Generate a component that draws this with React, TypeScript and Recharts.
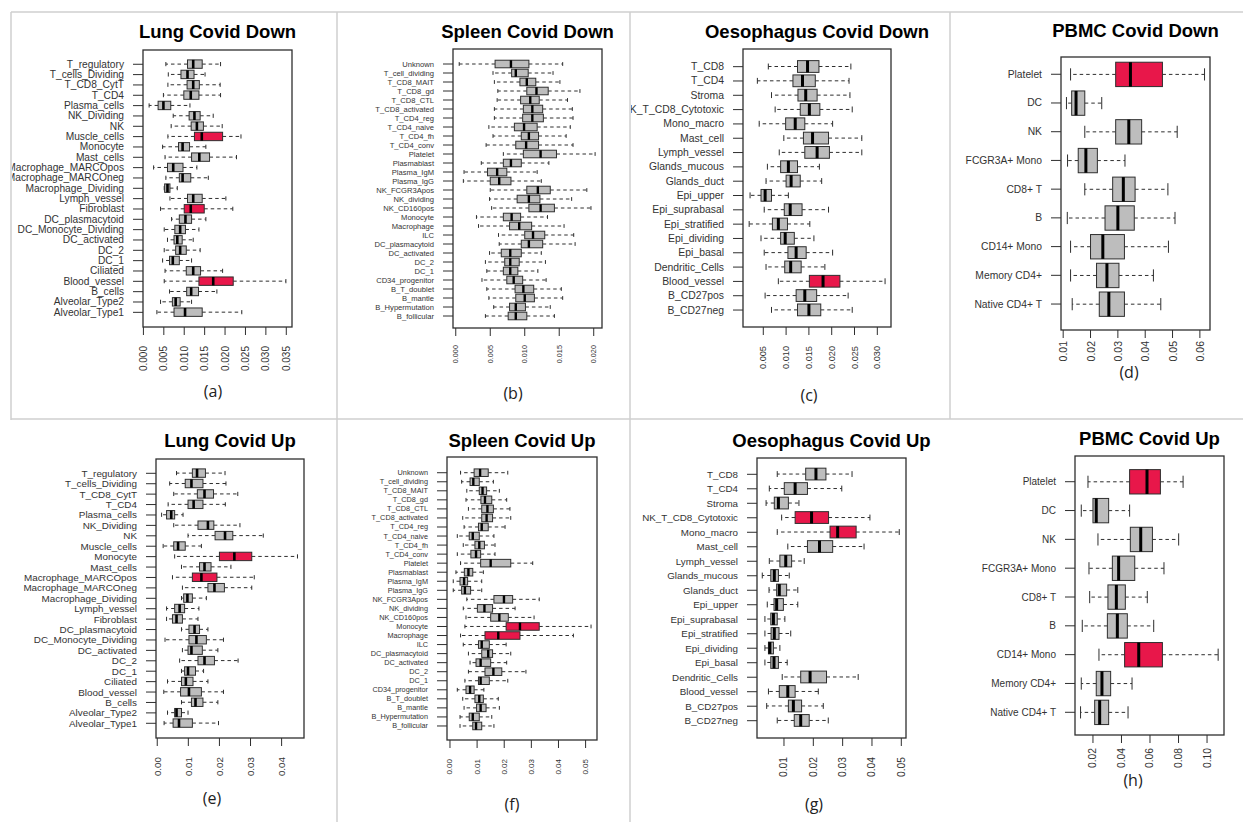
import React from 'react';
import { ComposedChart, Bar, XAxis, YAxis } from 'recharts';

// each stat is [lower whisker, Q1, median, Q3, upper whisker]
type Stat = [number, number, number, number, number];

const lungCells = [
  'T_regulatory', 'T_cells_Dividing', 'T_CD8_CytT', 'T_CD4', 'Plasma_cells', 'NK_Dividing', 'NK',
  'Muscle_cells', 'Monocyte', 'Mast_cells', 'Macrophage_MARCOpos', 'Macrophage_MARCOneg',
  'Macrophage_Dividing', 'Lymph_vessel', 'Fibroblast', 'DC_plasmacytoid', 'DC_Monocyte_Dividing',
  'DC_activated', 'DC_2', 'DC_1', 'Ciliated', 'Blood_vessel', 'B_cells', 'Alveolar_Type2', 'Alveolar_Type1',
];

const spleenCells = [
  'Unknown', 'T_cell_dividing', 'T_CD8_MAIT', 'T_CD8_gd', 'T_CD8_CTL', 'T_CD8_activated', 'T_CD4_reg',
  'T_CD4_naive', 'T_CD4_fh', 'T_CD4_conv', 'Platelet', 'Plasmablast', 'Plasma_IgM', 'Plasma_IgG',
  'NK_FCGR3Apos', 'NK_dividing', 'NK_CD160pos', 'Monocyte', 'Macrophage', 'ILC', 'DC_plasmacytoid',
  'DC_activated', 'DC_2', 'DC_1', 'CD34_progenitor', 'B_T_doublet', 'B_mantle', 'B_Hypermutation', 'B_follicular',
];

const oesoCells = [
  'T_CD8', 'T_CD4', 'Stroma', 'NK_T_CD8_Cytotoxic', 'Mono_macro', 'Mast_cell', 'Lymph_vessel',
  'Glands_mucous', 'Glands_duct', 'Epi_upper', 'Epi_suprabasal', 'Epi_stratified', 'Epi_dividing',
  'Epi_basal', 'Dendritic_Cells', 'Blood_vessel', 'B_CD27pos', 'B_CD27neg',
];

const pbmcCells = [
  'Platelet', 'DC', 'NK', 'FCGR3A+ Mono', 'CD8+ T', 'B', 'CD14+ Mono', 'Memory CD4+', 'Native CD4+ T',
];

const lungDown: Stat[] = [
  [0.0055, 0.0108, 0.0122, 0.0144, 0.0189],
  [0.0061, 0.0092, 0.0108, 0.0124, 0.0151],
  [0.0060, 0.0107, 0.0122, 0.0137, 0.0188],
  [0.0049, 0.0099, 0.0116, 0.0136, 0.0189],
  [0.0014, 0.0036, 0.0049, 0.0067, 0.0114],
  [0.0073, 0.0112, 0.0125, 0.0139, 0.0171],
  [0.0068, 0.0117, 0.0131, 0.0147, 0.0193],
  [0.0060, 0.0125, 0.0143, 0.0194, 0.0239],
  [0.0047, 0.0086, 0.0096, 0.0113, 0.0153],
  [0.0053, 0.0118, 0.0137, 0.0162, 0.0228],
  [0.0025, 0.0059, 0.0073, 0.0097, 0.0131],
  [0.0055, 0.0088, 0.0096, 0.0116, 0.0159],
  [0.0051, 0.0052, 0.0059, 0.0065, 0.0083],
  [0.0065, 0.0108, 0.0122, 0.0144, 0.0202],
  [0.0042, 0.0100, 0.0116, 0.0149, 0.0219],
  [0.0069, 0.0088, 0.0103, 0.0118, 0.0153],
  [0.0051, 0.0077, 0.0090, 0.0103, 0.0136],
  [0.0059, 0.0075, 0.0083, 0.0095, 0.0122],
  [0.0051, 0.0079, 0.0090, 0.0105, 0.0139],
  [0.0047, 0.0064, 0.0072, 0.0088, 0.0118],
  [0.0053, 0.0105, 0.0122, 0.0140, 0.0194],
  [0.0051, 0.0136, 0.0171, 0.0220, 0.0349],
  [0.0064, 0.0106, 0.0117, 0.0135, 0.0180],
  [0.0042, 0.0071, 0.0079, 0.0090, 0.0118],
  [0.0033, 0.0075, 0.0102, 0.0144, 0.0241],
];
const lungDownRed = ['Muscle_cells', 'Fibroblast', 'Blood_vessel'];

const spleenDown: Stat[] = [
  [0.0005, 0.0057, 0.0080, 0.0106, 0.0155],
  [0.0054, 0.0081, 0.0087, 0.0105, 0.0141],
  [0.0056, 0.0093, 0.0103, 0.0116, 0.0151],
  [0.0061, 0.0103, 0.0117, 0.0134, 0.0180],
  [0.0060, 0.0094, 0.0108, 0.0121, 0.0162],
  [0.0056, 0.0098, 0.0111, 0.0126, 0.0169],
  [0.0056, 0.0097, 0.0111, 0.0127, 0.0170],
  [0.0048, 0.0085, 0.0099, 0.0118, 0.0166],
  [0.0054, 0.0095, 0.0106, 0.0120, 0.0160],
  [0.0044, 0.0087, 0.0102, 0.0120, 0.0170],
  [0.0069, 0.0098, 0.0123, 0.0146, 0.0202],
  [0.0037, 0.0069, 0.0080, 0.0095, 0.0135],
  [0.0012, 0.0046, 0.0060, 0.0074, 0.0118],
  [0.0011, 0.0050, 0.0063, 0.0080, 0.0124],
  [0.0050, 0.0103, 0.0119, 0.0137, 0.0190],
  [0.0049, 0.0089, 0.0106, 0.0122, 0.0168],
  [0.0052, 0.0106, 0.0123, 0.0143, 0.0196],
  [0.0030, 0.0069, 0.0081, 0.0094, 0.0133],
  [0.0033, 0.0078, 0.0092, 0.0110, 0.0157],
  [0.0062, 0.0100, 0.0112, 0.0129, 0.0171],
  [0.0063, 0.0095, 0.0106, 0.0126, 0.0173],
  [0.0049, 0.0066, 0.0079, 0.0095, 0.0124],
  [0.0043, 0.0071, 0.0079, 0.0092, 0.0130],
  [0.0045, 0.0069, 0.0079, 0.0090, 0.0119],
  [0.0038, 0.0074, 0.0084, 0.0097, 0.0131],
  [0.0045, 0.0086, 0.0098, 0.0113, 0.0153],
  [0.0048, 0.0087, 0.0100, 0.0114, 0.0155],
  [0.0055, 0.0078, 0.0087, 0.0101, 0.0137],
  [0.0043, 0.0076, 0.0087, 0.0103, 0.0143],
];
const spleenDownRed: string[] = [];

const oesoDown: Stat[] = [
  [0.0061, 0.0125, 0.0147, 0.0172, 0.0242],
  [0.0037, 0.0115, 0.0136, 0.0164, 0.0238],
  [0.0068, 0.0126, 0.0143, 0.0168, 0.0240],
  [0.0076, 0.0131, 0.0151, 0.0174, 0.0245],
  [0.0041, 0.0099, 0.0120, 0.0141, 0.0202],
  [0.0095, 0.0138, 0.0158, 0.0193, 0.0266],
  [0.0085, 0.0141, 0.0168, 0.0195, 0.0266],
  [0.0059, 0.0088, 0.0105, 0.0125, 0.0173],
  [0.0056, 0.0100, 0.0111, 0.0131, 0.0178],
  [0.0021, 0.0045, 0.0054, 0.0068, 0.0105],
  [0.0052, 0.0096, 0.0109, 0.0135, 0.0193],
  [0.0019, 0.0070, 0.0083, 0.0103, 0.0152],
  [0.0045, 0.0088, 0.0098, 0.0118, 0.0161],
  [0.0052, 0.0104, 0.0122, 0.0144, 0.0202],
  [0.0056, 0.0097, 0.0110, 0.0133, 0.0185],
  [0.0083, 0.0151, 0.0181, 0.0218, 0.0317],
  [0.0054, 0.0122, 0.0141, 0.0167, 0.0236],
  [0.0068, 0.0125, 0.0150, 0.0176, 0.0245],
];
const oesoDownRed = ['Blood_vessel'];

const pbmcDown: Stat[] = [
  [0.0127, 0.0292, 0.0346, 0.0463, 0.0617],
  [0.0112, 0.0131, 0.0147, 0.0179, 0.0241],
  [0.0179, 0.0292, 0.0340, 0.0387, 0.0517],
  [0.0116, 0.0155, 0.0183, 0.0225, 0.0326],
  [0.0179, 0.0281, 0.0320, 0.0363, 0.0483],
  [0.0115, 0.0253, 0.0300, 0.0360, 0.0509],
  [0.0127, 0.0200, 0.0245, 0.0324, 0.0485],
  [0.0127, 0.0222, 0.0260, 0.0304, 0.0430],
  [0.0133, 0.0232, 0.0267, 0.0324, 0.0457],
];
const pbmcDownRed = ['Platelet'];

const lungUp: Stat[] = [
  [0.0062, 0.0113, 0.0128, 0.0155, 0.0218],
  [0.0040, 0.0090, 0.0110, 0.0147, 0.0221],
  [0.0053, 0.0129, 0.0152, 0.0181, 0.0259],
  [0.0035, 0.0099, 0.0117, 0.0147, 0.0219],
  [0.0014, 0.0030, 0.0045, 0.0056, 0.0083],
  [0.0053, 0.0131, 0.0163, 0.0182, 0.0266],
  [0.0099, 0.0186, 0.0218, 0.0243, 0.0341],
  [0.0019, 0.0053, 0.0067, 0.0090, 0.0142],
  [0.0056, 0.0200, 0.0248, 0.0304, 0.0451],
  [0.0078, 0.0136, 0.0152, 0.0173, 0.0237],
  [0.0049, 0.0113, 0.0142, 0.0192, 0.0312],
  [0.0081, 0.0163, 0.0184, 0.0216, 0.0304],
  [0.0078, 0.0085, 0.0097, 0.0113, 0.0158],
  [0.0030, 0.0056, 0.0072, 0.0088, 0.0134],
  [0.0030, 0.0049, 0.0062, 0.0081, 0.0131],
  [0.0078, 0.0102, 0.0120, 0.0136, 0.0163],
  [0.0025, 0.0102, 0.0126, 0.0158, 0.0213],
  [0.0081, 0.0099, 0.0110, 0.0145, 0.0195],
  [0.0072, 0.0131, 0.0152, 0.0184, 0.0260],
  [0.0078, 0.0088, 0.0099, 0.0123, 0.0149],
  [0.0033, 0.0078, 0.0092, 0.0115, 0.0163],
  [0.0021, 0.0075, 0.0102, 0.0142, 0.0213],
  [0.0078, 0.0110, 0.0123, 0.0147, 0.0195],
  [0.0033, 0.0056, 0.0062, 0.0078, 0.0099],
  [0.0022, 0.0051, 0.0070, 0.0113, 0.0197],
];
const lungUpRed = ['Monocyte', 'Macrophage_MARCOpos'];

const spleenUp: Stat[] = [
  [0.0039, 0.0089, 0.0111, 0.0141, 0.0213],
  [0.0043, 0.0074, 0.0086, 0.0108, 0.0160],
  [0.0062, 0.0108, 0.0120, 0.0135, 0.0182],
  [0.0059, 0.0114, 0.0129, 0.0154, 0.0209],
  [0.0068, 0.0117, 0.0138, 0.0160, 0.0221],
  [0.0047, 0.0117, 0.0135, 0.0157, 0.0224],
  [0.0052, 0.0105, 0.0117, 0.0141, 0.0203],
  [0.0027, 0.0071, 0.0084, 0.0108, 0.0162],
  [0.0049, 0.0092, 0.0108, 0.0127, 0.0166],
  [0.0027, 0.0077, 0.0096, 0.0113, 0.0166],
  [0.0039, 0.0113, 0.0150, 0.0224, 0.0305],
  [0.0022, 0.0053, 0.0068, 0.0084, 0.0123],
  [0.0012, 0.0037, 0.0052, 0.0065, 0.0117],
  [0.0012, 0.0043, 0.0055, 0.0076, 0.0117],
  [0.0062, 0.0162, 0.0199, 0.0231, 0.0329],
  [0.0049, 0.0101, 0.0127, 0.0157, 0.0240],
  [0.0059, 0.0150, 0.0182, 0.0215, 0.0310],
  [0.0055, 0.0207, 0.0258, 0.0329, 0.0520],
  [0.0039, 0.0129, 0.0178, 0.0258, 0.0455],
  [0.0049, 0.0105, 0.0117, 0.0145, 0.0207],
  [0.0068, 0.0117, 0.0141, 0.0157, 0.0224],
  [0.0074, 0.0096, 0.0113, 0.0150, 0.0209],
  [0.0068, 0.0129, 0.0160, 0.0191, 0.0280],
  [0.0055, 0.0105, 0.0113, 0.0145, 0.0213],
  [0.0027, 0.0059, 0.0074, 0.0089, 0.0125],
  [0.0047, 0.0092, 0.0108, 0.0123, 0.0178],
  [0.0052, 0.0098, 0.0113, 0.0133, 0.0182],
  [0.0037, 0.0071, 0.0084, 0.0108, 0.0154],
  [0.0037, 0.0084, 0.0096, 0.0117, 0.0162],
];
const spleenUpRed = ['Monocyte', 'Macrophage'];

const oesoUp: Stat[] = [
  [0.0077, 0.0174, 0.0209, 0.0243, 0.0332],
  [0.0050, 0.0101, 0.0138, 0.0180, 0.0297],
  [0.0039, 0.0067, 0.0081, 0.0115, 0.0151],
  [0.0092, 0.0138, 0.0194, 0.0252, 0.0393],
  [0.0077, 0.0257, 0.0283, 0.0346, 0.0493],
  [0.0113, 0.0180, 0.0221, 0.0266, 0.0373],
  [0.0050, 0.0086, 0.0106, 0.0126, 0.0169],
  [0.0026, 0.0055, 0.0067, 0.0081, 0.0118],
  [0.0049, 0.0075, 0.0084, 0.0109, 0.0147],
  [0.0043, 0.0066, 0.0075, 0.0098, 0.0147],
  [0.0035, 0.0055, 0.0064, 0.0077, 0.0103],
  [0.0035, 0.0056, 0.0067, 0.0083, 0.0123],
  [0.0035, 0.0047, 0.0052, 0.0064, 0.0086],
  [0.0035, 0.0055, 0.0066, 0.0081, 0.0111],
  [0.0094, 0.0157, 0.0189, 0.0245, 0.0353],
  [0.0047, 0.0084, 0.0113, 0.0138, 0.0217],
  [0.0041, 0.0115, 0.0132, 0.0160, 0.0234],
  [0.0077, 0.0135, 0.0157, 0.0186, 0.0251],
];
const oesoUpRed = ['NK_T_CD8_Cytotoxic', 'Mono_macro'];

const pbmcUp: Stat[] = [
  [0.0165, 0.0457, 0.0579, 0.0673, 0.0832],
  [0.0118, 0.0200, 0.0223, 0.0310, 0.0457],
  [0.0235, 0.0462, 0.0535, 0.0617, 0.0801],
  [0.0172, 0.0336, 0.0380, 0.0493, 0.0698],
  [0.0177, 0.0305, 0.0364, 0.0427, 0.0581],
  [0.0125, 0.0301, 0.0371, 0.0441, 0.0626],
  [0.0242, 0.0422, 0.0521, 0.0687, 0.1078],
  [0.0118, 0.0223, 0.0263, 0.0324, 0.0474],
  [0.0113, 0.0212, 0.0247, 0.0310, 0.0446],
];
const pbmcUpRed = ['Platelet', 'CD14+ Mono'];

const ticksLungDown = [0, 0.005, 0.01, 0.015, 0.02, 0.025, 0.03, 0.035];
const ticksSpleenDown = [0, 0.005, 0.01, 0.015, 0.02];
const ticksOesoDown = [0.005, 0.01, 0.015, 0.02, 0.025, 0.03];
const ticksPbmcDown = [0.01, 0.02, 0.03, 0.04, 0.05, 0.06];
const ticksLungUp = [0, 0.01, 0.02, 0.03, 0.04];
const ticksSpleenUp = [0, 0.01, 0.02, 0.03, 0.04, 0.05];
const ticksOesoUp = [0.01, 0.02, 0.03, 0.04, 0.05];
const ticksPbmcUp = [0.02, 0.04, 0.06, 0.08, 0.1];

const GREY = '#bdbdbd';
const RED = '#e8174a';
const INK = '#2e2e2e';
const FONT = '"Liberation Sans", Arial, sans-serif';

interface PanelSpec {
  title: string;
  tag: string;
  cells: string[];
  stats: Stat[];
  red: string[];
  ticks: number[];
  digits: number;
  domain: [number, number];
  box: [number, number, number, number]; // left, top, right, bottom of plot frame
  chartLeft: number;
  padTop: number;
  padBottom: number;
  yFont: number;
  xFont: number;
  xGap: number;
  medW: number;
  titleY: number;
  tagX: number;
  tagY: number;
}

const panels: PanelSpec[] = [
  {
    title: 'Lung Covid Down', tag: '(a)', cells: lungCells, stats: lungDown, red: lungDownRed,
    ticks: ticksLungDown, digits: 3, domain: [-0.0001, 0.0364], box: [143, 50, 292, 327],
    chartLeft: 12, padTop: 9.1, padBottom: 9.5, yFont: 10.2, xFont: 10, xGap: 11, medW: 2.6,
    titleY: 38, tagX: 213, tagY: 397,
  },
  {
    title: 'Spleen Covid Down', tag: '(b)', cells: spleenCells, stats: spleenDown, red: spleenDownRed,
    ticks: ticksSpleenDown, digits: 3, domain: [-0.0004, 0.0212], box: [453, 49, 602, 328],
    chartLeft: 340, padTop: 10.5, padBottom: 7.5, yFont: 7.6, xFont: 7.3, xGap: 9, medW: 2.4,
    titleY: 38, tagX: 513, tagY: 399,
  },
  {
    title: 'Oesophagus Covid Down', tag: '(c)', cells: oesoCells, stats: oesoDown, red: oesoDownRed,
    ticks: ticksOesoDown, digits: 3, domain: [0.00055, 0.033], box: [743, 49, 891, 327],
    chartLeft: 631, padTop: 10.5, padBottom: 9.8, yFont: 10.4, xFont: 9.2, xGap: 11, medW: 3,
    titleY: 38, tagX: 809, tagY: 401,
  },
  {
    title: 'PBMC Covid Down', tag: '(d)', cells: pbmcCells, stats: pbmcDown, red: pbmcDownRed,
    ticks: ticksPbmcDown, digits: 2, domain: [0.0092, 0.0637], box: [1061, 57, 1210, 330],
    chartLeft: 953, padTop: 2.9, padBottom: 11.6, yFont: 10.3, xFont: 10.5, xGap: 3, medW: 3,
    titleY: 37, tagX: 1129, tagY: 378,
  },
  {
    title: 'Lung Covid Up', tag: '(e)', cells: lungCells, stats: lungUp, red: lungUpRed,
    ticks: ticksLungUp, digits: 2, domain: [-0.0004, 0.0472], box: [156, 459, 304, 738],
    chartLeft: 12, padTop: 9.1, padBottom: 9.5, yFont: 9.9, xFont: 9.8, xGap: 11, medW: 2.6,
    titleY: 447, tagX: 212, tagY: 804,
  },
  {
    title: 'Spleen Covid Up', tag: '(f)', cells: spleenCells, stats: spleenUp, red: spleenUpRed,
    ticks: ticksSpleenUp, digits: 2, domain: [-0.0011, 0.0542], box: [447, 457, 597, 740],
    chartLeft: 340, padTop: 11.2, padBottom: 9.5, yFont: 7.3, xFont: 8, xGap: 11, medW: 2.4,
    titleY: 447, tagX: 512, tagY: 810,
  },
  {
    title: 'Oesophagus Covid Up', tag: '(g)', cells: oesoCells, stats: oesoUp, red: oesoUpRed,
    ticks: ticksOesoUp, digits: 2, domain: [0.0008, 0.0516], box: [757, 458, 906, 738],
    chartLeft: 631, padTop: 9.05, padBottom: 10.05, yFont: 9.8, xFont: 10.3, xGap: 11, medW: 3,
    titleY: 447, tagX: 814, tagY: 810,
  },
  {
    title: 'PBMC Covid Up', tag: '(h)', cells: pbmcCells, stats: pbmcUp, red: pbmcUpRed,
    ticks: ticksPbmcUp, digits: 2, domain: [0.0074, 0.1119], box: [1075, 456, 1224, 735],
    chartLeft: 953, padTop: 11.3, padBottom: 8.3, yFont: 10, xFont: 10.3, xGap: 5, medW: 3,
    titleY: 445, tagX: 1133, tagY: 786,
  },
];

function BoxShape(props: any) {
  const { x, y, width, height, payload, medW } = props;
  if (!payload || x == null || !width) return null;
  const [lw, q1, med, q3, hw] = payload.stat as Stat;
  // the bar spans lw..hw on the axis scale, so interpolate inside it
  const toX = (v: number) => x + ((v - lw) / (hw - lw)) * width;
  const cy = y + height / 2;
  const bh = height * 0.84;
  const top = cy - bh / 2;
  const cap = bh * 0.25;
  const xl = toX(lw);
  const xh = toX(hw);
  const x1 = toX(q1);
  const x3 = toX(q3);
  const xm = toX(med);
  return (
    <g>
      <line x1={x1} x2={xl} y1={cy} y2={cy} stroke={INK} strokeWidth={1} strokeDasharray="3.5 3" />
      <line x1={x3} x2={xh} y1={cy} y2={cy} stroke={INK} strokeWidth={1} strokeDasharray="3.5 3" />
      <line x1={xl} x2={xl} y1={cy - cap} y2={cy + cap} stroke={INK} strokeWidth={1} />
      <line x1={xh} x2={xh} y1={cy - cap} y2={cy + cap} stroke={INK} strokeWidth={1} />
      <rect x={x1} y={top} width={Math.max(x3 - x1, 0.5)} height={bh}
        fill={payload.red ? RED : GREY} stroke={INK} strokeWidth={1} />
      <line x1={xm} x2={xm} y1={top} y2={top + bh} stroke="#000" strokeWidth={medW} />
    </g>
  );
}

function XTick(props: any) {
  const { x, y, payload, fs, digits } = props;
  return (
    <text x={x} y={y} transform={`rotate(-90 ${x} ${y})`} textAnchor="end" dominantBaseline="central"
      fontSize={fs} fill="#333" fontFamily={FONT}>
      {Number(payload.value).toFixed(digits)}
    </text>
  );
}

function YTick(props: any) {
  const { x, y, payload, fs } = props;
  return (
    <text x={x} y={y} textAnchor="end" dominantBaseline="central" fontSize={fs} fill="#333" fontFamily={FONT}>
      {payload.value}
    </text>
  );
}

function Panel({ p }: { p: PanelSpec }) {
  const rows = p.cells.map((name, i) => ({
    name,
    stat: p.stats[i],
    range: [p.stats[i][0], p.stats[i][4]],
    red: p.red.includes(name),
  }));
  const [bl, bt, br, bb] = p.box;
  const m = 4;
  const xh = 70;
  return (
    <div style={{ position: 'absolute', left: p.chartLeft, top: bt - m }}>
      <ComposedChart
        width={br - p.chartLeft + m}
        height={m + (bb - bt) + xh}
        data={rows}
        layout="vertical"
        margin={{ top: m, right: m, bottom: 0, left: 0 }}
        barCategoryGap={0}
      >
        <XAxis
          type="number"
          domain={p.domain}
          allowDataOverflow
          ticks={p.ticks}
          interval={0}
          height={xh}
          axisLine={false}
          tickSize={8}
          tickMargin={p.xGap}
          tickLine={{ stroke: INK }}
          tick={(t: any) => <XTick {...t} fs={p.xFont} digits={p.digits} />}
        />
        <YAxis
          type="category"
          dataKey="name"
          width={bl - p.chartLeft}
          interval={0}
          axisLine={false}
          tickSize={10}
          tickMargin={9}
          tickLine={{ stroke: INK }}
          padding={{ top: p.padTop, bottom: p.padBottom }}
          tick={(t: any) => <YTick {...t} fs={p.yFont} />}
        />
        <Bar
          dataKey="range"
          isAnimationActive={false}
          shape={(s: any) => <BoxShape {...s} medW={p.medW} />}
        />
      </ComposedChart>
    </div>
  );
}

export default function App() {
  return (
    <div style={{ position: 'absolute', left: 0, top: 0, width: 1243, height: 822, background: '#fff', overflow: 'hidden', fontFamily: FONT }}>
      {panels.map((p) => (
        <Panel key={p.tag} p={p} />
      ))}
      <svg width={1243} height={822} style={{ position: 'absolute', left: 0, top: 0, pointerEvents: 'none' }}>
        <g stroke="#cfcfcf" strokeWidth={1.5} fill="none">
          <line x1={11} y1={12} x2={1243} y2={12} />
          <line x1={11} y1={12} x2={11} y2={420} />
          <line x1={11} y1={419} x2={1243} y2={419} />
          <line x1={337} y1={12} x2={337} y2={822} />
          <line x1={630} y1={12} x2={630} y2={822} />
          <line x1={950} y1={12} x2={950} y2={419} />
        </g>
        {panels.map((p) => {
          const [bl, bt, br, bb] = p.box;
          return (
            <g key={p.tag}>
              <rect x={bl} y={bt} width={br - bl} height={bb - bt} fill="none" stroke={INK} strokeWidth={1.3} />
              <text x={(bl + br) / 2} y={p.titleY} textAnchor="middle" fontSize={18.5} fontWeight="bold"
                fontFamily={FONT} fill="#000">
                {p.title}
              </text>
              <text x={p.tagX} y={p.tagY} textAnchor="middle" fontSize={16}
                fontFamily='"Open Sans", "Noto Sans", sans-serif' fill="#222">
                {p.tag}
              </text>
            </g>
          );
        })}
      </svg>
    </div>
  );
}
